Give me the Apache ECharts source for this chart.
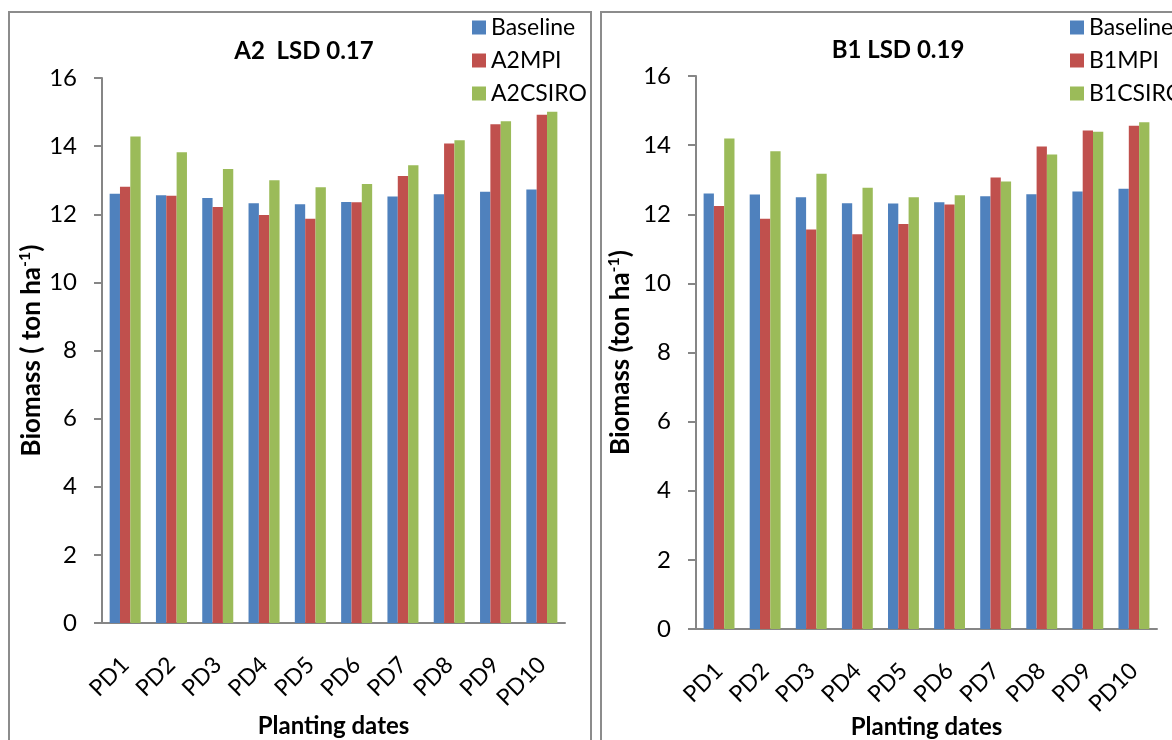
<!DOCTYPE html>
<html><head><meta charset="utf-8">
<script src="https://cdn.jsdelivr.net/npm/echarts@6/dist/echarts.min.js"></script>
<style>html,body{margin:0;padding:0;background:#fff}#c{width:1172px;height:740px}</style>
</head><body><div id="c"></div>
<script>
const categories = ['PD1','PD2','PD3','PD4','PD5','PD6','PD7','PD8','PD9','PD10'];
const yTicks = [0,2,4,6,8,10,12,14,16];
const baselineA2 = [12.60,12.56,12.48,12.32,12.29,12.36,12.52,12.59,12.66,12.73];
const a2MPI     = [12.81,12.54,12.21,11.98,11.87,12.35,13.12,14.08,14.64,14.92];
const a2CSIRO   = [14.28,13.82,13.33,13.00,12.79,12.89,13.44,14.17,14.73,15.01];
const baselineB1 = [12.60,12.57,12.49,12.32,12.31,12.35,12.52,12.58,12.66,12.74];
const b1MPI     = [12.24,11.87,11.56,11.42,11.72,12.28,13.06,13.96,14.42,14.56];
const b1CSIRO   = [14.19,13.82,13.17,12.77,12.49,12.55,12.95,13.73,14.39,14.66];

const FONT = 'Lato';
const C_BLUE = '#4f81bd', C_RED = '#c0504d', C_GREEN = '#9bbb59';
const axisGray = '#868686';

function yAx(gi, gap, name) {
  return {
    type: 'value', gridIndex: gi, min: yTicks[0], max: yTicks[yTicks.length-1], interval: 2,
    name: name, nameLocation: 'middle', nameGap: gap, nameRotate: 90, nameMoveOverlap: false,
    nameTextStyle: {
      rich: {
        a: {fontFamily: FONT, fontSize: 26, fontWeight: 'bold', color: '#000'},
        s: {fontFamily: FONT, fontSize: 16, fontWeight: 'bold', color: '#000', verticalAlign: 'top', padding: [0,0,13,0]}
      }
    },
    axisLine: {show: true, lineStyle: {color: axisGray, width: 2}},
    axisTick: {show: true, length: 8, lineStyle: {color: axisGray, width: 2}},
    splitLine: {show: false},
    axisLabel: {fontFamily: FONT, fontSize: 24, color: '#000', margin: 25}
  };
}
function xAx(gi, gap) {
  return {
    type: 'category', gridIndex: gi, data: categories,
    name: 'Planting dates', nameLocation: 'middle', nameGap: gap, nameMoveOverlap: false,
    nameTextStyle: {fontFamily: FONT, fontSize: 24, fontWeight: 'bold', color: '#000'},
    axisLine: {show: true, lineStyle: {color: axisGray, width: 2}},
    axisTick: {show: false},
    axisLabel: {fontFamily: FONT, fontSize: 23, color: '#000', rotate: 45, interval: 0, margin: 38}
  };
}
function bar(name, data, color, idx) {
  return {
    type: 'bar', name: name, data: data, xAxisIndex: idx, yAxisIndex: idx,
    barGap: '0%', barCategoryGap: '33%',
    itemStyle: {color: color}
  };
}

const chart = echarts.init(document.getElementById('c'));
chart.setOption({
  animation: false,
  backgroundColor: '#fff',
  title: [
    {text: 'A2  LSD 0.17', left: 299, top: 34, textAlign: 'center',
     textStyle: {fontFamily: FONT, fontSize: 24, fontWeight: 'bold', color: '#000'}},
    {text: 'B1 LSD 0.19', left: 893, top: 33, textAlign: 'center',
     textStyle: {fontFamily: FONT, fontSize: 24, fontWeight: 'bold', color: '#000'}}
  ],
  legend: [
    {data: ['Baseline','A2MPI','A2CSIRO'], orient: 'vertical', left: 467, top: 11,
     icon: 'rect', itemWidth: 14, itemHeight: 14, itemGap: 10,
     textStyle: {fontFamily: FONT, fontSize: 23, color: '#000'}},
    {data: ['Baseline','B1MPI','B1CSIRO'], orient: 'vertical', left: 1065, top: 11,
     icon: 'rect', itemWidth: 14, itemHeight: 14, itemGap: 10,
     textStyle: {fontFamily: FONT, fontSize: 23, color: '#000'}}
  ],
  grid: [
    {left: 102, top: 78, width: 463, height: 545, containLabel: false, outerBoundsMode: 'none'},
    {left: 696, top: 76, width: 461, height: 553, containLabel: false, outerBoundsMode: 'none'}
  ],
  xAxis: [xAx(0, 91), xAx(1, 86)],
  yAxis: [yAx(0, 56, '{a|Biomass ( ton ha}{s|-1}{a|)}'), yAx(1, 61, '{a|Biomass (ton ha}{s|-1}{a|)}')],
  series: [
    bar('Baseline', baselineA2, C_BLUE, 0),
    bar('A2MPI', a2MPI, C_RED, 0),
    bar('A2CSIRO', a2CSIRO, C_GREEN, 0),
    bar('Baseline', baselineB1, C_BLUE, 1),
    bar('B1MPI', b1MPI, C_RED, 1),
    bar('B1CSIRO', b1CSIRO, C_GREEN, 1)
  ],
  graphic: [
    {type: 'rect', shape: {x: 9, y: 12, width: 582, height: 760}, style: {fill: 'none', stroke: '#8c8c8c', lineWidth: 2}, silent: true},
    {type: 'rect', shape: {x: 601, y: 12, width: 620, height: 760}, style: {fill: 'none', stroke: '#8c8c8c', lineWidth: 2}, silent: true}
  ]
});
</script>
</body></html>
